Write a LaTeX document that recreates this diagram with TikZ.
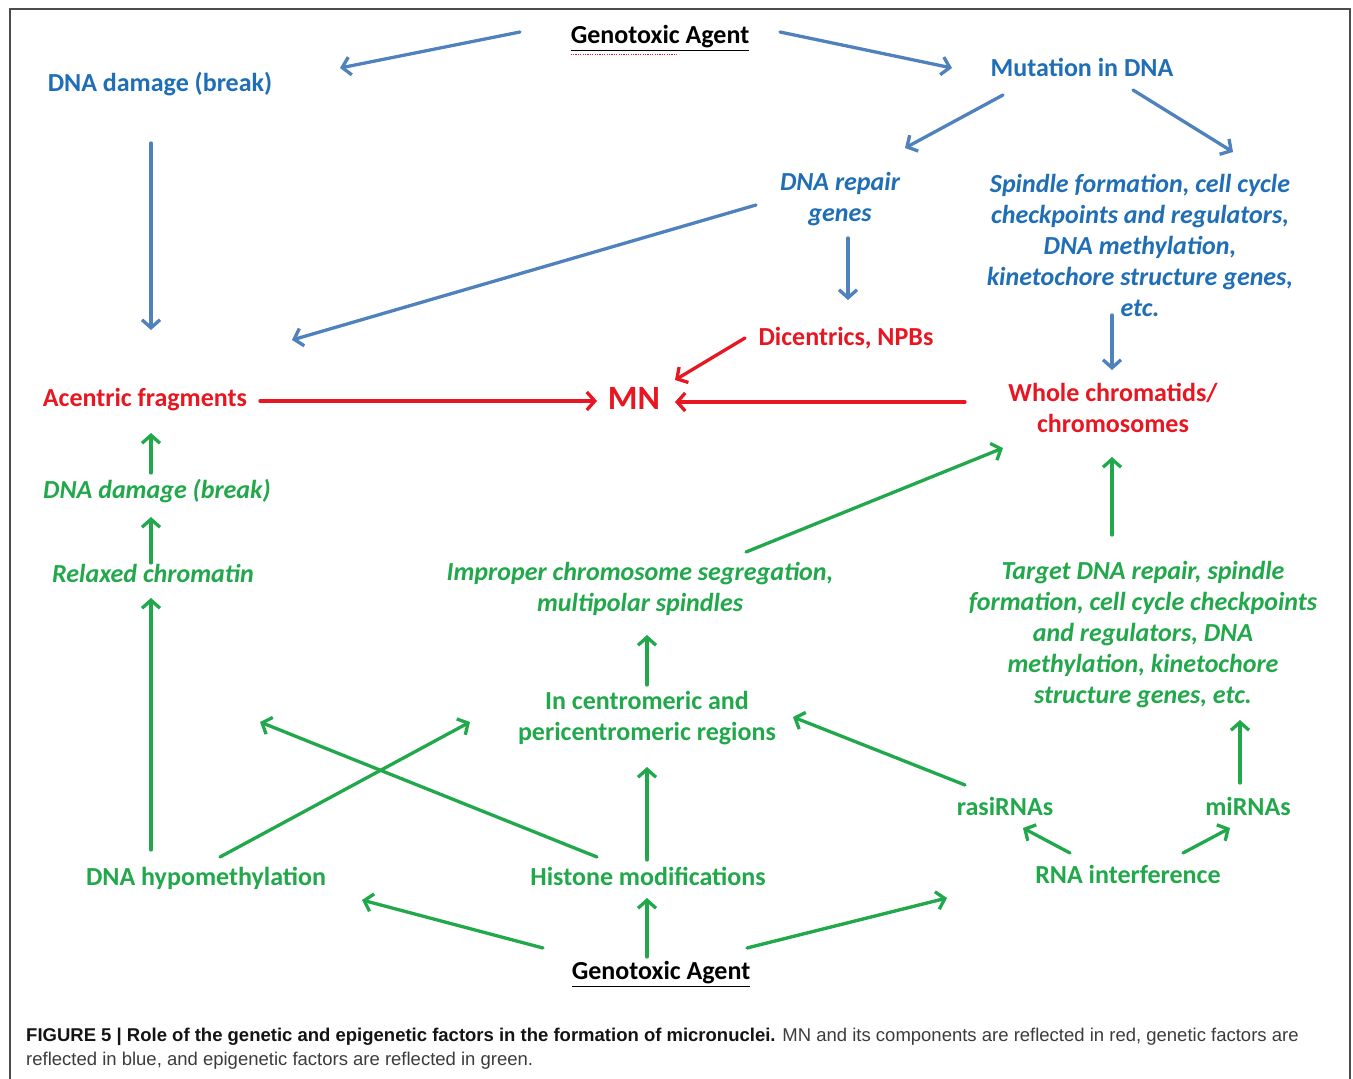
\documentclass[tikz,border=0pt]{standalone}
\usepackage{fontspec}
\setmainfont{Carlito}
\newfontfamily\capfont{Liberation Sans}
\usetikzlibrary{arrows.meta,calc}
\definecolor{gblue}{RGB}{31,110,182}
\definecolor{ablue}{RGB}{79,129,189}
\definecolor{mred}{RGB}{232,22,32}
\definecolor{egreen}{RGB}{33,168,75}
\definecolor{capdark}{RGB}{20,20,20}
\definecolor{capgray}{RGB}{60,60,60}
\begin{document}
\begin{tikzpicture}[x=1pt,y=-1pt,
  lbl/.style={inner sep=0pt, align=center, font=\fontsize{26}{31}\selectfont\bfseries},
  bl/.style={lbl, text=gblue},
  bli/.style={lbl, text=gblue, font=\fontsize{26}{31}\selectfont\bfseries\itshape},
  rd/.style={lbl, text=mred},
  gr/.style={lbl, text=egreen},
  gri/.style={lbl, text=egreen, font=\fontsize{26}{31}\selectfont\bfseries\itshape},
  blk/.style={lbl, text=black},
  conn/.style={line width=3.3pt, line cap=round, -{Straight Barb[length=8pt,width=18pt,line width=3.3pt]}},
  barr/.style={conn, draw=ablue},
  rarr/.style={conn, draw=mred},
  garr/.style={conn, draw=egreen},
  capl/.style={inner sep=0pt, anchor=base west, font=\capfont\fontsize{18.5}{22}\selectfont}
]
\useasboundingbox (0,0) rectangle (1353,1079);
\fill[white] (0,0) rectangle (1353,1079);
% frame
\draw[line width=2pt, draw=black!70] (10,1079) -- (10,9) -- (1350,9) -- (1350,1079);

% nodes
\node[blk] (gt) at (660,38) {\underline{Genotoxic Agent}};
\node[bl] (dd) at (160,84) {DNA damage (break)};
\node[bl] (mut) at (1082,67) {Mutation in DNA};
\node[bli] (rep) at (840,199) {DNA repair\\genes};
\node[bli] (spi) at (1140,245) {Spindle formation, cell cycle\\checkpoints and regulators,\\DNA methylation,\\kinetochore structure genes,\\etc.};
\node[rd] (dic) at (846,338) {Dicentrics, NPBs};
\node[rd] (acf) at (145,400) {Acentric fragments};
\node[rd, font=\fontsize{34}{40}\selectfont\bfseries] (mn) at (634,398) {MN};
\node[rd] (who) at (1113,408) {Whole chromatids/\\chromosomes};
\node[gri] (dd2) at (157,491) {DNA damage (break)};
\node[gri] (rel) at (153,573) {Relaxed chromatin};
\node[gri] (imp) at (640,589) {Improper chromosome segregation,\\multipolar spindles};
\node[gri] (tgt) at (1143,635) {Target DNA repair, spindle\\formation, cell cycle checkpoints\\and regulators, DNA\\methylation, kinetochore\\structure genes, etc.};
\node[gr] (cen) at (647,718) {In centromeric and\\pericentromeric regions};
\node[gr] (ras) at (1005,806) {rasiRNAs};
\node[gr] (mir) at (1248,806) {miRNAs};
\node[gr] (hyp) at (206,878) {DNA hypomethylation};
\node[gr] (his) at (648,876) {Histone modifications};
\node[gr] (rnai) at (1128,874) {RNA interference};
\node[blk] (gb) at (661,974) {\underline{Genotoxic Agent}};

% spell-check squiggle under "Genotoxic"
\draw[mred, line width=0.9pt, dash pattern=on 1.2pt off 1.2pt] ($(gt.south west)+(0,3.5)$) -- ($(gt.south west)+(108,3.5)$);

% blue arrows
\draw[barr] ($(gt)+(-140,-6)$) -- ($(dd)+(180,-16)$);
\draw[barr] ($(gt)+(120,-6)$) -- ($(mut)+(-130,1)$);
\draw[barr] ($(mut)+(-79,28)$) -- ($(rep)+(65,-51)$);
\draw[barr] ($(mut)+(51,23)$) -- ($(spi)+(93,-93)$);
\draw[barr] ($(dd)+(-9,59)$) -- ($(acf)+(6,-70)$);
\draw[barr] ($(rep)+(-84,6)$) -- ($(acf)+(147,-60)$);
\draw[barr] ($(rep)+(8,39)$) -- ($(dic)+(2,-38)$);
\draw[barr] ($(spi)+(-28,70)$) -- ($(who)+(-1,-38)$);

% red arrows
\draw[rarr] ($(dic)+(-101,0)$) -- ($(mn)+(41,-18)$);
\draw[rarr] ($(acf)+(115,1)$) -- ($(mn)+(-37,3)$);
\draw[rarr] ($(who)+(-148,-6)$) -- ($(mn)+(41,4)$);

% green arrows
\draw[garr] ($(dd2)+(-6,-18)$) -- ($(acf)+(6,33)$);
\draw[garr] ($(rel)+(-2,-10)$) -- ($(dd2)+(-6,26)$);
\draw[garr] ($(hyp)+(-55,-28)$) -- ($(rel)+(-2,25)$);
\draw[garr] ($(imp)+(106,-37)$) -- ($(who)+(-110,40)$);
\draw[garr] ($(tgt)+(-31,-100)$) -- ($(who)+(-1,49)$);
\draw[garr] ($(cen)+(0,-33)$) -- ($(imp)+(7,46)$);
\draw[garr] ($(hyp)+(14,-21)$) -- ($(cen)+(-177,4)$);
\draw[garr] ($(his)+(-51,-19)$) -- ($(rel)+(107,149)$);
\draw[garr] ($(his)+(-1,-16)$) -- ($(cen)+(0,49)$);
\draw[garr] ($(ras)+(-40,-21)$) -- ($(cen)+(146,-1)$);
\draw[garr] ($(mir)+(-8,-23)$) -- ($(tgt)+(97,85)$);
\draw[garr] ($(rnai)+(-58,-21)$) -- ($(ras)+(18,22)$);
\draw[garr] ($(rnai)+(55,-21)$) -- ($(mir)+(-18,22)$);
\draw[garr] ($(gb)+(-118,-26)$) -- ($(hyp)+(156,22)$);
\draw[garr] ($(gb)+(-14,-17)$) -- ($(his)+(-1,22)$);
\draw[garr] ($(gb)+(86,-26)$) -- ($(rnai)+(-181,24)$);

% caption
\node[capl, text=capgray] (cap1) at (26,1041) {{\bfseries\color{capdark}FIGURE 5 | Role of the genetic and epigenetic factors in the formation of micronuclei.} MN and its components are reflected in red, genetic factors are};
\node[capl, text=capgray] (cap2) at (26,1065) {reflected in blue, and epigenetic factors are reflected in green.};
\end{tikzpicture}
\end{document}
